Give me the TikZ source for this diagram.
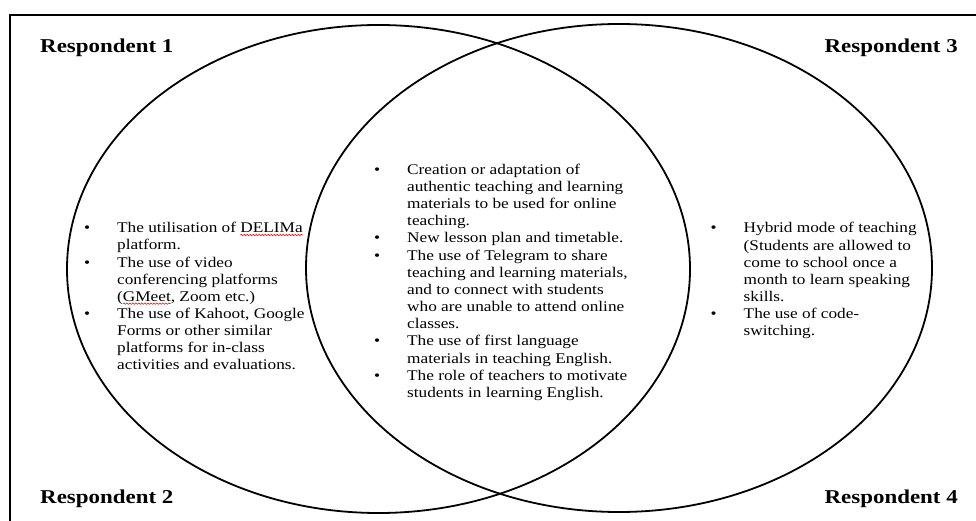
\documentclass[tikz,border=0pt]{standalone}
\usepackage{fontspec}
\setmainfont{Liberation Serif}[FakeStretch=1.17]
\usetikzlibrary{shapes.geometric,decorations.pathmorphing}
\newlength\wavelen
\newsavebox\wavebox
\newcommand\redwave[1]{\sbox\wavebox{#1}\setlength\wavelen{\wd\wavebox}%
  \rlap{\tikz[overlay]\draw[red, line width=0.6pt, decorate, decoration={snake, amplitude=0.7pt, segment length=3pt}] (0pt,-2.2pt) -- (\wavelen,-2.2pt);}\usebox\wavebox}
\newcommand\bodyfont{\fontsize{14.75pt}{17.15pt}\selectfont}
\newcommand\labfont{\fontsize{19.6pt}{22pt}\selectfont\bfseries}
\newcommand\bul{\makebox[33pt][l]{\textbullet}}
\begin{document}
\begin{tikzpicture}[x=1pt,y=-1pt,
  frameline/.style={line width=2pt},
  venn/.style={ellipse, draw, line width=1.8pt, minimum height=488pt, inner sep=0pt},
  resp/.style={font=\labfont, inner sep=0pt},
  list/.style={anchor=base west, font=\bodyfont, inner sep=0pt}]
\useasboundingbox (0,0) rectangle (976,521);
\draw[frameline] (10,521) -- (10,15) -- (976,15);
\node[venn, minimum width=623pt] (left) at (378.5,269) {};
\node[venn, minimum width=626pt] (right) at (619,268) {};
\node[resp, anchor=base west] (r1) at (40,53) {Respondent 1};
\node[resp, anchor=base west] (r2) at (40,503) {Respondent 2};
\node[resp, anchor=base east] (r3) at (958,53) {Respondent 3};
\node[resp, anchor=base east] (r4) at (958,503) {Respondent 4};
\node[list] (colL) at (84,232.8) {\begin{tabular}[t]{@{}l@{}l@{}}
\bul & The utilisation of \redwave{DELIMa}\\
 & platform.\\
\bul & The use of video\\
 & conferencing platforms\\
 & (\redwave{GMeet}, Zoom etc.)\\
\bul & The use of Kahoot, Google\\
 & Forms or other similar\\
 & platforms for in-class\\
 & activities and evaluations.
\end{tabular}};
\node[list] (colC) at (374,174.4) {\begin{tabular}[t]{@{}l@{}l@{}}
\bul & Creation or adaptation of\\
 & authentic teaching and learning\\
 & materials to be used for online\\
 & teaching.\\
\bul & New lesson plan and timetable.\\
\bul & The use of Telegram to share\\
 & teaching and learning materials,\\
 & and to connect with students\\
 & who are unable to attend online\\
 & classes.\\
\bul & The use of first language\\
 & materials in teaching English.\\
\bul & The role of teachers to motivate\\
 & students in learning English.
\end{tabular}};
\node[list] (colR) at (710.5,233) {\begin{tabular}[t]{@{}l@{}l@{}}
\bul & Hybrid mode of teaching\\
 & (Students are allowed to\\
 & come to school once a\\
 & month to learn speaking\\
 & skills.\\
\bul & The use of code-\\
 & switching.
\end{tabular}};
\end{tikzpicture}
\end{document}
